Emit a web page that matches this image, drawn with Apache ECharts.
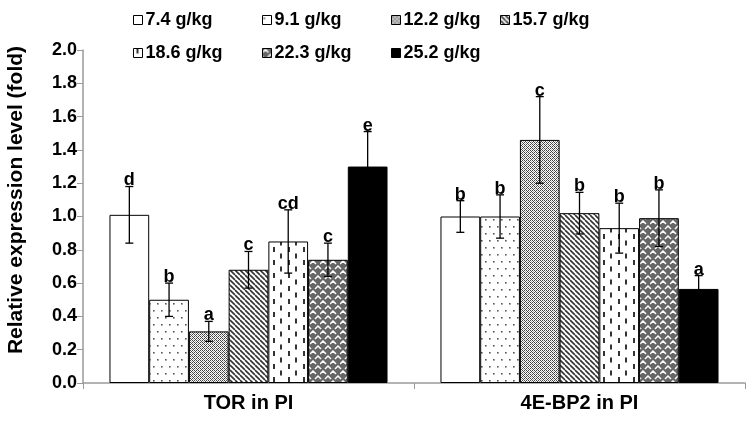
<!DOCTYPE html>
<html><head><meta charset="utf-8">
<script src="https://cdn.jsdelivr.net/npm/echarts@6/dist/echarts.min.js"></script>
<style>html,body{margin:0;padding:0;background:#fff}#c{width:755px;height:423px}</style>
</head><body><div id="c"></div>
<script>
// ---- data ----
const categories = ['TOR in PI', '4E-BP2 in PI'];
const groups = ['7.4 g/kg', '9.1 g/kg', '12.2 g/kg', '15.7 g/kg', '18.6 g/kg', '22.3 g/kg', '25.2 g/kg'];
const mean74 = [1.01, 1.00];
const mean91 = [0.50, 1.00];
const mean122 = [0.31, 1.46];
const mean157 = [0.68, 1.02];
const mean186 = [0.85, 0.93];
const mean223 = [0.74, 0.99];
const mean252 = [1.30, 0.565];
const err74 = [0.17, 0.095];
const err91 = [0.10, 0.13];
const err122 = [0.06, 0.26];
const err157 = [0.11, 0.125];
const err186 = [0.19, 0.15];
const err223 = [0.10, 0.17];
const err252 = [0.21, 0.08];
const let74 = ['d', 'b'];
const let91 = ['b', 'b'];
const let122 = ['a', 'c'];
const let157 = ['c', 'b'];
const let186 = ['cd', 'b'];
const let223 = ['c', 'b'];
const let252 = ['e', 'a'];
const yTicks = { min: 0, max: 2.0, interval: 0.2 };
const axisTitle = 'Relative expression level (fold)';

const means = [mean74, mean91, mean122, mean157, mean186, mean223, mean252];
const errs = [err74, err91, err122, err157, err186, err223, err252];
const letters = [let74, let91, let122, let157, let186, let223, let252];

// ---- patterns ----
function pat(w, h, draw) {
  const c = document.createElement('canvas');
  c.width = w; c.height = h;
  const x = c.getContext('2d');
  x.fillStyle = '#fff'; x.fillRect(0, 0, w, h);
  draw(x, w, h);
  return { image: c, repeat: 'repeat' };
}
const fills = [
  '#ffffff',
  pat(8, 14, (x) => { x.fillStyle = '#555'; x.fillRect(1, 2, 1.6, 1.6); x.fillRect(5, 9, 1.6, 1.6); }),
  pat(4, 4, (x) => { x.fillStyle = '#444'; x.fillRect(0,0,1,1); x.fillRect(1,1,1,1); x.fillRect(2,2,1,1); x.fillRect(3,3,1,1);
    x.fillRect(2,0,1,1); x.fillRect(0,2,1,1); x.fillStyle = '#aaa'; x.fillRect(3,1,1,1); x.fillRect(1,3,1,1); }),
  pat(5, 5, (x, w) => { x.strokeStyle = '#333'; x.lineWidth = 1.6; x.beginPath();
    for (let k = -1; k <= 1; k++) { x.moveTo(k * w, 0); x.lineTo(k * w + w, w); } x.stroke(); }),
  pat(15, 13, (x) => { x.fillStyle = '#333'; x.fillRect(3, 0, 2, 5); x.fillRect(10, 6.5, 2, 5); }),
  pat(10, 10, (x) => { x.fillStyle = '#666'; x.fillRect(0,0,10,10); x.strokeStyle = '#fff'; x.lineWidth = 1.5; x.beginPath();
    x.moveTo(0, 4); x.lineTo(3, 1); x.lineTo(6, 4);
    x.moveTo(5, 9); x.lineTo(8, 6); x.lineTo(11, 9);
    x.moveTo(-5, 9); x.lineTo(-2, 6); x.lineTo(1, 9); x.stroke(); }),
  '#000000'
];

const gapRatio = 0.16;
const font = 'Liberation Sans';

function errRender(si) {
  return function (params, api) {
    const ci = api.value(0), v = api.value(1), e = api.value(2);
    const band = api.size([1, 0])[0];
    const bw = band * (1 - gapRatio) / groups.length;
    const c = api.coord([ci, v]);
    const x = c[0] + (si - (groups.length - 1) / 2) * bw;
    const yT = api.coord([ci, v + e])[1];
    const yB = api.coord([ci, v - e])[1];
    const cap = 4;
    const st = { stroke: '#000', lineWidth: 1.3 };
    return { type: 'group', children: [
      { type: 'line', shape: { x1: x, y1: yT, x2: x, y2: yB }, style: st },
      { type: 'line', shape: { x1: x - cap, y1: yT, x2: x + cap, y2: yT }, style: st },
      { type: 'line', shape: { x1: x - cap, y1: yB, x2: x + cap, y2: yB }, style: st },
      { type: 'text', style: { text: letters[si][params.dataIndex], x: x, y: yT + 3, align: 'center', verticalAlign: 'bottom',
          font: 'bold 18px "' + font + '"', fill: '#000' } }
    ] };
  };
}

const series = [];
groups.forEach((g, i) => {
  series.push({
    name: g, type: 'bar', data: means[i], barGap: '0%', barCategoryGap: (gapRatio * 100) + '%',
    itemStyle: { color: fills[i], borderColor: '#000', borderWidth: 1 }, emphasis: { disabled: true }
  });
});
groups.forEach((g, i) => {
  series.push({
    type: 'custom', renderItem: errRender(i), z: 5,
    data: categories.map((c, k) => [k, means[i][k], errs[i][k]])
  });
});

const legendPos = [[128, 6], [257, 6], [386, 6], [495, 6], [128, 39], [257, 39], [386, 39]];
const legends = groups.map((g, i) => ({
  data: [g], left: legendPos[i][0], top: legendPos[i][1], icon: 'rect', itemWidth: 9, itemHeight: 9, itemGap: 4,
  itemStyle: { borderColor: '#000', borderWidth: 1 }, selectedMode: false,
  textStyle: { fontFamily: font, fontWeight: 'bold', fontSize: 18, color: '#000', padding: [0, 0, 0, -2] }
}));

const chart = echarts.init(document.getElementById('c'), null, { renderer: 'canvas' });
chart.setOption({
  animation: false,
  backgroundColor: '#fff',
  legend: legends,
  grid: { left: 83, right: 10, top: 50, bottom: 40, containLabel: false },
  xAxis: {
    type: 'category', data: categories,
    axisLine: { lineStyle: { color: '#9a9a9a', width: 1.5 } },
    axisTick: { show: true, length: 6, lineStyle: { color: '#9a9a9a' } },
    axisLabel: { fontFamily: font, fontWeight: 'bold', fontSize: 20, color: '#000', margin: 10 }
  },
  yAxis: {
    type: 'value', min: yTicks.min, max: yTicks.max, interval: yTicks.interval,
    axisLine: { show: true, lineStyle: { color: '#9a9a9a', width: 1.5 } },
    axisTick: { show: true, length: 6, lineStyle: { color: '#9a9a9a' } },
    splitLine: { show: false },
    axisLabel: { fontFamily: font, fontWeight: 'bold', fontSize: 18, color: '#000', margin: 6, formatter: v => v.toFixed(1) }
  },
  graphic: [{
    type: 'text', x: 16, y: 200, rotation: Math.PI / 2,
    style: { text: axisTitle, align: 'center', verticalAlign: 'middle', font: 'bold 21px "' + font + '"', fill: '#000' }
  }],
  series: series
});
</script>
</body></html>
